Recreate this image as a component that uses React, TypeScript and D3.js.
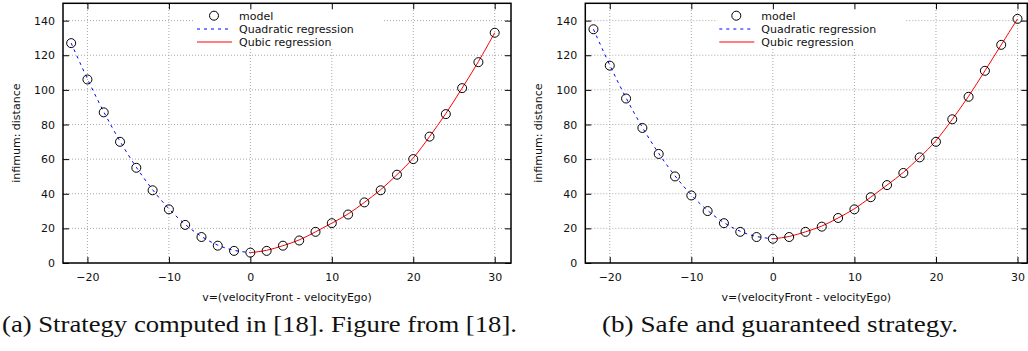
import { useEffect, useRef } from "react"
import * as d3 from "d3"

// relative velocity (x) of the model points
const velocity = [-22, -20, -18, -16, -14, -12, -10, -8, -6, -4, -2, 0, 2, 4, 6, 8, 10, 12, 14, 16, 18, 20, 22, 24, 26, 28, 30]
// (a) strategy computed in [18]
const distanceA = [127, 106, 87, 70, 55, 42, 31, 22, 15, 10, 7, 6, 7, 10, 13, 18, 23, 28, 35, 42, 51, 60, 73, 86, 101, 116, 133]
// (b) safe and guaranteed strategy
const distanceB = [135, 114, 95, 78, 63, 50, 39, 30, 23, 18, 15, 14, 15, 18, 21, 26, 31, 38, 45, 52, 61, 70, 83, 96, 111, 126, 141]

const xTicks = [-20, -10, 0, 10, 20, 30]
const yTicks = [0, 20, 40, 60, 80, 100, 120, 140]
const legendLabels = ["model", "Quadratic regression", "Qubic regression"]

const FONT = "'DejaVu Sans', sans-serif"

interface PanelOpts {
  values: number[]
  left: number
  right: number
  xMax: number
}

function drawPanel(root: d3.Selection<SVGGElement, unknown, null, undefined>, opts: PanelOpts) {
  const { values, left, right, xMax } = opts
  const top = 3.3
  const bottom = 263

  const x = d3.scaleLinear().domain([-23, xMax]).range([left, right])
  const y = d3.scaleLinear().domain([0, 150]).range([bottom, top])

  const g = root.append("g")

  // Grid lines
  g.selectAll(".vgrid")
    .data(xTicks)
    .enter()
    .append("line")
    .attr("x1", d => x(d))
    .attr("x2", d => x(d))
    .attr("y1", bottom)
    .attr("y2", top)
    .attr("stroke", "#a8a8a8")
    .attr("stroke-dasharray", "1,2")

  g.selectAll(".hgrid")
    .data(yTicks.filter(d => d > 0))
    .enter()
    .append("line")
    .attr("x1", left)
    .attr("x2", right)
    .attr("y1", d => y(d))
    .attr("y2", d => y(d))
    .attr("stroke", "#a8a8a8")
    .attr("stroke-dasharray", "1,2")

  // Legend background
  g.append("rect")
    .attr("x", left + 132)
    .attr("y", top)
    .attr("width", 188)
    .attr("height", 45)
    .attr("fill", "#fff")

  // Axes (ticks inward, mirrored)
  const styleAxis = (sel: d3.Selection<SVGGElement, unknown, null, undefined>) => {
    sel.select(".domain").remove()
    sel.selectAll("line").attr("stroke", "#000")
    sel.selectAll("text")
      .style("font-family", FONT)
      .style("font-size", "11px")
      .attr("fill", "#111")
  }

  g.append("g")
    .attr("transform", `translate(0,${bottom})`)
    .call(d3.axisBottom(x).tickValues(xTicks).tickSizeInner(-6).tickSizeOuter(0).tickPadding(10))
    .call(styleAxis)

  g.append("g")
    .attr("transform", `translate(0,${top})`)
    .call(d3.axisTop(x).tickValues(xTicks).tickSizeInner(-6).tickSizeOuter(0).tickFormat(() => ""))
    .call(styleAxis)

  g.append("g")
    .attr("transform", `translate(${left},0)`)
    .call(d3.axisLeft(y).tickValues(yTicks).tickSizeInner(-6).tickSizeOuter(0).tickPadding(8))
    .call(styleAxis)

  g.append("g")
    .attr("transform", `translate(${right},0)`)
    .call(d3.axisRight(y).tickValues(yTicks).tickSizeInner(-6).tickSizeOuter(0).tickFormat(() => ""))
    .call(styleAxis)

  // Frame
  g.append("rect")
    .attr("x", left)
    .attr("y", top)
    .attr("width", right - left)
    .attr("height", bottom - top)
    .attr("fill", "none")
    .attr("stroke", "#000")
    .attr("stroke-width", 1.5)

  // Regression curves
  const pts = velocity.map((v, i) => ({ v, d: values[i] }))
  const line = d3.line<{ v: number; d: number }>()
    .x(p => x(p.v))
    .y(p => y(p.d))
    .curve(d3.curveBasis)

  g.append("path")
    .datum(pts.filter(p => p.v <= 0))
    .attr("d", line)
    .attr("fill", "none")
    .attr("stroke", "#0000ff")
    .attr("stroke-dasharray", "3,4")

  g.append("path")
    .datum(pts.filter(p => p.v >= 0))
    .attr("d", line)
    .attr("fill", "none")
    .attr("stroke", "#ff0000")

  // Model points
  g.selectAll(".pt")
    .data(pts)
    .enter()
    .append("circle")
    .attr("cx", p => x(p.v))
    .attr("cy", p => y(p.d))
    .attr("r", 4.5)
    .attr("fill", "none")
    .attr("stroke", "#000")

  // Legend
  const lx = left + 134
  const rows = [15.7, 29, 42]
  g.append("circle")
    .attr("cx", lx + 17)
    .attr("cy", rows[0])
    .attr("r", 4.5)
    .attr("fill", "none")
    .attr("stroke", "#000")
  g.append("line")
    .attr("x1", lx).attr("x2", lx + 35)
    .attr("y1", rows[1]).attr("y2", rows[1])
    .attr("stroke", "#0000ff")
    .attr("stroke-dasharray", "3,4")
  g.append("line")
    .attr("x1", lx).attr("x2", lx + 35)
    .attr("y1", rows[2]).attr("y2", rows[2])
    .attr("stroke", "#ff0000")
  g.selectAll(".leg")
    .data(legendLabels)
    .enter()
    .append("text")
    .attr("x", lx + 42)
    .attr("y", (_, i) => rows[i])
    .attr("dy", "0.35em")
    .style("font-family", FONT)
    .style("font-size", "11px")
    .attr("fill", "#111")
    .text(d => d)

  // Axis titles
  g.append("text")
    .attr("x", (left + right) / 2)
    .attr("y", 301)
    .attr("text-anchor", "middle")
    .style("font-family", FONT)
    .style("font-size", "11px")
    .attr("fill", "#111")
    .text("v=(velocityFront - velocityEgo)")

  g.append("text")
    .attr("transform", `translate(${left - 43},${(top + bottom) / 2}) rotate(-90)`)
    .attr("text-anchor", "middle")
    .style("font-family", FONT)
    .style("font-size", "11px")
    .attr("fill", "#111")
    .text("infimum: distance")
}

export default function App() {
  const gRef = useRef<SVGGElement>(null)

  useEffect(() => {
    if (!gRef.current) return
    const root = d3.select(gRef.current)
    root.selectAll("*").remove()

    drawPanel(root, { values: distanceA, left: 63, right: 511, xMax: 32 })
    drawPanel(root, { values: distanceB, left: 585.3, right: 1027.3, xMax: 31.2 })

    // Captions
    const captions = [
      { text: "(a) Strategy computed in [18]. Figure from [18].", x: 2, len: 515 },
      { text: "(b) Safe and guaranteed strategy.", x: 602, len: 356 }
    ]
    root.selectAll(".cap")
      .data(captions)
      .enter()
      .append("text")
      .attr("x", d => d.x)
      .attr("y", 332)
      .attr("textLength", d => d.len)
      .attr("lengthAdjust", "spacingAndGlyphs")
      .style("font-family", "'Liberation Serif', serif")
      .style("font-size", "23px")
      .attr("fill", "#111")
      .text(d => d.text)
  }, [])

  return (
    <svg width={1028} height={351} style={{ position: "absolute", left: 0, top: 0, background: "#fff" }}>
      <g ref={gRef} />
    </svg>
  )
}
